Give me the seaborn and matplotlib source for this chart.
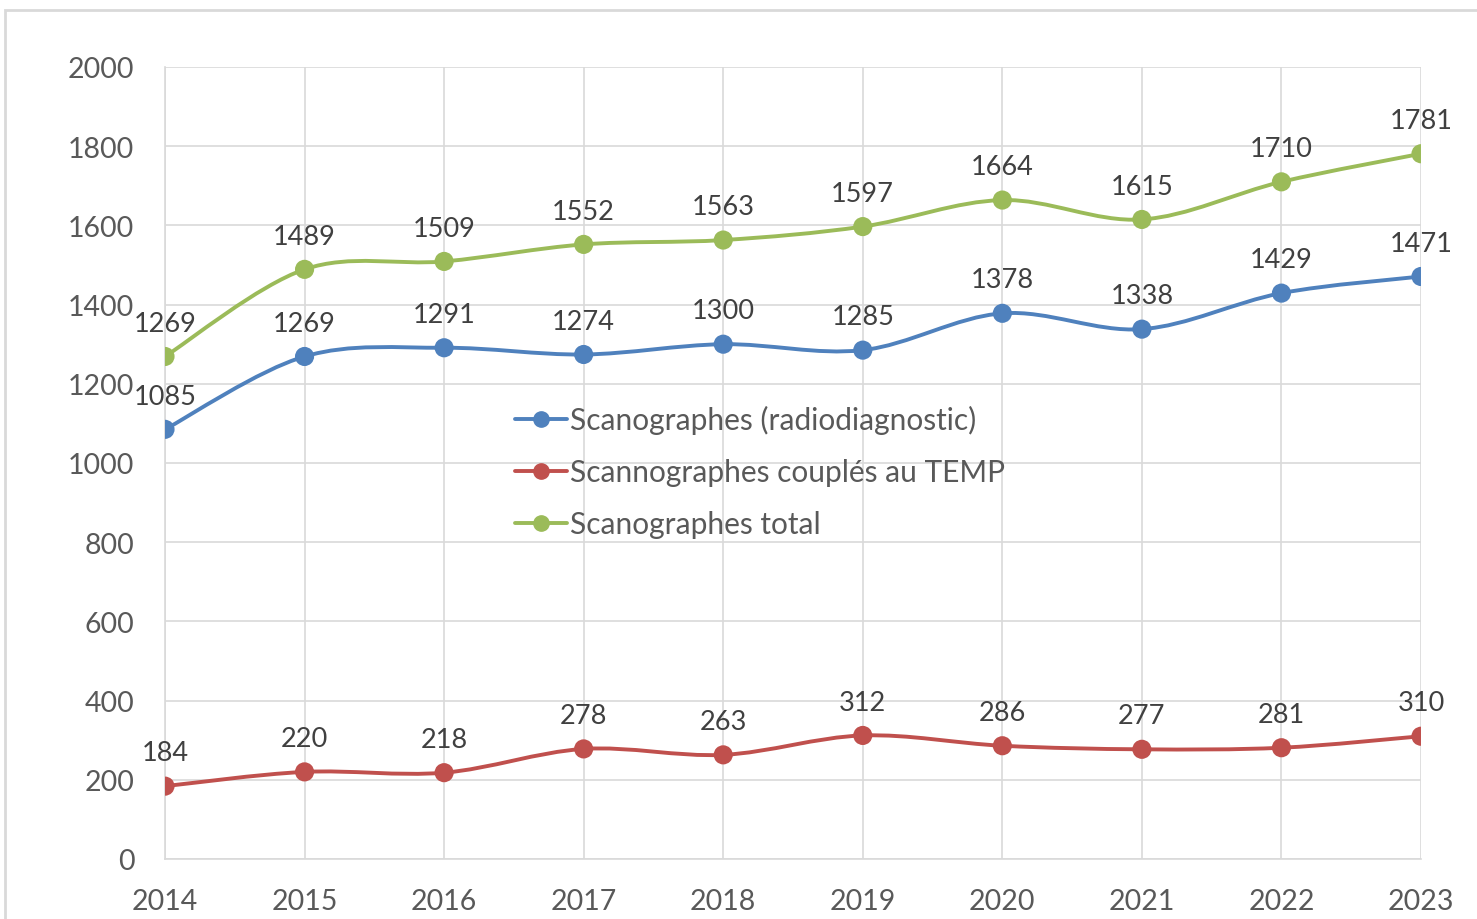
import numpy as np
import pandas as pd
import seaborn as sns
import matplotlib.pyplot as plt
from matplotlib.path import Path
from matplotlib.patches import PathPatch, Rectangle
from matplotlib.lines import Line2D

#%% data
years = [2014, 2015, 2016, 2017, 2018, 2019, 2020, 2021, 2022, 2023]
radio = [1085, 1269, 1291, 1274, 1300, 1285, 1378, 1338, 1429, 1471]
temp = [184, 220, 218, 278, 263, 312, 286, 277, 281, 310]
total = [1269, 1489, 1509, 1552, 1563, 1597, 1664, 1615, 1710, 1781]
names = ['Scanographes (radiodiagnostic)',
         'Scannographes couplés au TEMP',
         'Scanographes total']
colors = ['#4F81BD', '#C0504D', '#9BBB59']

df = pd.concat([pd.DataFrame({'annee': years, 'valeur': v, 'serie': n})
                for v, n in zip([radio, temp, total], names)])

#%% helpers
def smooth_path(x, y):
    # courbe lissée (bezier type Catmull-Rom) passant par les points
    p = np.column_stack([x, y]).astype(float)
    ext = np.vstack([p[0], p, p[-1]])
    verts = [p[0]]
    codes = [Path.MOVETO]
    for i in range(len(p) - 1):
        p0, p1, p2, p3 = ext[i], ext[i + 1], ext[i + 2], ext[i + 3]
        c1 = p1 + (p2 - p0) / 6
        c2 = p2 - (p3 - p1) / 6
        verts += [c1, c2, p2]
        codes += [Path.CURVE4] * 3
    return Path(verts, codes)

#%% plot
sns.set_theme(style='white')
plt.rcParams['font.family'] = ['Lato', 'DejaVu Sans']
txt = '#595959'
grid = '#D9D9D9'

fig = plt.figure(figsize=(14.77, 9.2), dpi=100)
ax = fig.add_axes([165 / 1477, 60 / 920, 1256 / 1477, 792 / 920])

sns.scatterplot(data=df, x='annee', y='valeur', hue='serie', palette=colors,
                s=190, edgecolor='none', legend=False, zorder=4, ax=ax)

for n, c in zip(names, colors):
    d = df[df['serie'] == n]
    ax.add_patch(PathPatch(smooth_path(d['annee'], d['valeur']), fill=False,
                           ec=c, lw=2.8, zorder=3, capstyle='round'))
    for xv, yv in zip(d['annee'], d['valeur']):
        ax.annotate(str(yv), (xv, yv), xytext=(0, 15), textcoords='offset points',
                    ha='center', va='bottom', fontsize=19.5, color='#404040')

ax.set_xlim(2014, 2023)
ax.set_ylim(0, 2000)
ax.set_xticks(years)
ax.set_yticks(range(0, 2001, 200))
ax.grid(True, color=grid, lw=1.2)
ax.set_axisbelow(True)
for s in ax.spines.values():
    s.set_color(grid)
    s.set_linewidth(1.2)
ax.spines['top'].set_visible(False)
ax.spines['right'].set_visible(False)
ax.tick_params(length=0, labelsize=20.5, colors=txt)
ax.tick_params(axis='y', pad=22)
ax.tick_params(axis='x', pad=21)
ax.set_xlabel('')
ax.set_ylabel('')

handles = [Line2D([], [], color=c, lw=2.8, marker='o', ms=11) for c in colors]
ax.legend(handles, names, loc='upper left', bbox_to_anchor=(0.257, 0.607),
          frameon=False, fontsize=21.5, labelcolor=txt, handlelength=1.75,
          handletextpad=0.1, labelspacing=0.8)

# cadre du graphique
fig.patches.append(Rectangle((5 / 1477, -0.1), 1.1, 1.1 - 11 / 920,
                             transform=fig.transFigure, fill=False,
                             ec='#D9D9D9', lw=2))

fig.savefig('out.png', dpi=100)
